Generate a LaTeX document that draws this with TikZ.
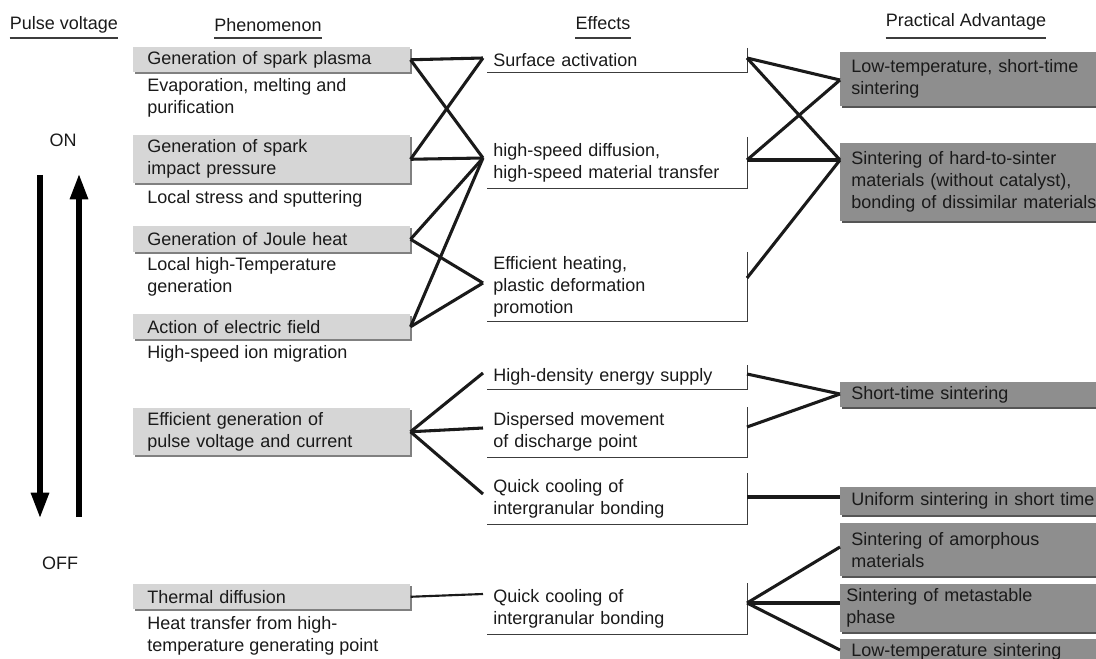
\documentclass[tikz,border=0pt]{standalone}
\usepackage{fontspec}
\setmainfont{Liberation Sans}
\usetikzlibrary{calc,shadows,arrows.meta}

\definecolor{phengray}{HTML}{D6D6D6}
\definecolor{phenshade}{HTML}{808080}
\definecolor{advgray}{HTML}{8E8E8E}
\definecolor{advshade}{HTML}{555555}
\definecolor{inkc}{HTML}{1A1A1A}

\tikzset{
  lbl/.style={inner sep=0pt, anchor=north west, align=left, text=inkc},
  hdr/.style={inner sep=0pt, text=inkc},
  phenbox/.style={fill=phengray, anchor=north west, inner xsep=10.5pt, inner ysep=1pt,
    text width=186.75pt, align=left, text=inkc,
    drop shadow={shadow xshift=1.4pt, shadow yshift=-1.4pt, fill=phenshade, opacity=1}},
  effbox/.style={anchor=north west, inner xsep=4.5pt, inner ysep=0pt,
    text width=186pt, align=left, text=inkc},
  advbox/.style={fill=advgray, anchor=north west, inner xsep=8.25pt, inner ysep=1pt,
    text width=187.5pt, align=left, text=inkc,
    drop shadow={shadow xshift=1.4pt, shadow yshift=-1.4pt, fill=advshade, opacity=1}},
  link/.style={line width=2.3pt, draw=inkc},
  brk/.style={line width=1.1pt, draw=inkc!85},
  hdline/.style={line width=1.1pt, draw=inkc!85},
  pulse/.style={line width=3.8pt, draw=black, -{Triangle[width=13pt,length=19pt]}}
}

\begin{document}
\begin{tikzpicture}[x=0.75pt,y=0.75pt,yscale=-1,xscale=1,
  every node/.style={font=\fontsize{13.5}{16.5}\selectfont}]
\clip (0,0) rectangle (1096,659);

% Headers
\draw (64,25) node [hdr] (hdpulse) {Pulse voltage};
\draw (268,25) node [hdr] (hdphen) {Phenomenon};
\draw (603,23) node [hdr] (hdeff) {Effects};
\draw (966,22) node [hdr] (hdadv) {Practical Advantage};
\coordinate (ul) at (0,38);
\draw [hdline] (hdpulse.west |- ul) -- (hdpulse.east |- ul);
\draw [hdline] (hdphen.west |- ul) -- (hdphen.east |- ul);
\draw [hdline] (hdeff.west |- ul) -- (hdeff.east |- ul);
\draw [hdline] (hdadv.west |- ul) -- (hdadv.east |- ul);

% Pulse voltage
\draw (63,140) node [hdr] (on) {ON};
\draw (60,563) node [hdr] (off) {OFF};
\coordinate (dntop) at (40,175);
\coordinate (dnbot) at (40,518);
\coordinate (uptop) at (79,174);
\coordinate (upbot) at (79,517);
\draw [pulse] (dntop) -- (dnbot);
\draw [pulse] (upbot) -- (uptop);

%Shape: Rectangle (phenomenon)
\draw (133,47) node [phenbox, minimum height=18.75pt] (p1) {Generation of spark plasma};
\draw (133,135) node [phenbox, minimum height=36pt] (p2) {Generation of spark\\impact pressure};
\draw (133,226) node [phenbox, minimum height=19.5pt] (p3) {Generation of Joule heat};
\draw (133,314) node [phenbox, minimum height=18.75pt] (p4) {Action of electric field};
\draw (133,408) node [phenbox, minimum height=35.25pt] (p5) {Efficient generation of\\pulse voltage and current};
\draw (133,584) node [phenbox, minimum height=18.75pt] (p6) {Thermal diffusion};

% Text Node
\draw (147,78) node [lbl] (s1) {Evaporation, melting and\\purification};
\draw (147,190) node [lbl] (s2) {Local stress and sputtering};
\draw (147,257) node [lbl] (s3) {Local high-Temperature\\generation};
\draw (147,345) node [lbl] (s4) {High-speed ion migration};
\draw (147,616) node [lbl] (s6) {Heat transfer from high-\\temperature generating point};

%Shape: Bracket (effects)
\draw (487,48) node [effbox, minimum height=18pt] (e1) {Surface activation};
\draw (487,137) node [effbox, minimum height=38.25pt] (e2) {high-speed diffusion,\\high-speed material transfer};
\draw (487,252) node [effbox, minimum height=51.75pt] (e3) {Efficient heating,\\plastic deformation\\promotion};
\draw (487,365) node [effbox, minimum height=18pt] (e4) {High-density energy supply};
\draw (487,407) node [effbox, minimum height=37.5pt] (e5) {Dispersed movement\\of discharge point};
\draw (487,473) node [effbox, minimum height=38.25pt] (e6) {Quick cooling of\\intergranular bonding};
\draw (487,583) node [effbox, minimum height=38.25pt] (e7) {Quick cooling of\\intergranular bonding};
\foreach \e in {e1,e2,e3,e4,e5,e6,e7}
  \draw [brk] (\e.north east) -- (\e.south east) -- (\e.south west);

%Shape: Rectangle (advantage)
\draw (840,52) node [advbox, minimum height=40.5pt] (a1) {Low-temperature, short-time\\sintering};
\draw (840,143) node [advbox, minimum height=58.5pt] (a2) {Sintering of hard-to-sinter\\materials (without catalyst),\\bonding of dissimilar materials};
\draw (840,382) node [advbox, minimum height=18.75pt] (a3) {Short-time sintering};
\draw (840,487) node [advbox, minimum height=21pt] (a4) {Uniform sintering in short time};
\draw (840,523) node [advbox, minimum height=39.75pt] (a5) {Sintering of amorphous\\materials};
\draw (840,584) node [advbox, minimum height=36pt, inner xsep=4.5pt] (a6) {Sintering of metastable\\phase};
\draw (840,639) node [advbox, minimum height=19.5pt] (a7) {Low-temperature sintering};

% Joining points
\coordinate (e1in) at (483,58);
\coordinate (e2in) at (483,158);
\coordinate (e3in) at (483,283);
\coordinate (e4in) at (483,373);
\coordinate (e5in) at (483,428);
\coordinate (e6in) at (483,494);
\coordinate (e7in) at (483,594);
\coordinate (e1out) at (747,58);
\coordinate (e2out) at (747,160);
\coordinate (e3out) at (747,278);
\coordinate (e4out) at (747,374);
\coordinate (e5out) at (747,427);
\coordinate (e6out) at (747,497);
\coordinate (e7out) at (747,603);
\coordinate (a1in) at (840,80);
\coordinate (a2in) at (840,160);
\coordinate (a3in) at (840,394);
\coordinate (a4in) at (840,497);
\coordinate (a5in) at (840,547);
\coordinate (a6in) at (840,603);
\coordinate (a7in) at (840,650);

%Straight Lines (phenomenon to effects)
\draw [link] (p1.east) -- (e1in);
\draw [link] (p1.east) -- (e2in);
\draw [link] (p2.east) -- (e1in);
\draw [link] (p2.east) -- (e2in);
\draw [link] (p3.east) -- (e2in);
\draw [link] (p3.east) -- (e3in);
\draw [link] (p4.east) -- (e2in);
\draw [link] (p4.east) -- (e3in);
\draw [link] (p5.east) -- (e4in);
\draw [link] (p5.east) -- (e5in);
\draw [link] (p5.east) -- (e6in);
\draw [link, line width=1.6pt] (p6.east) -- (e7in);

%Straight Lines (effects to advantage)
\draw [link] (e1out) -- (a1in);
\draw [link] (e1out) -- (a2in);
\draw [link] (e2out) -- (a1in);
\draw [link] (e2out) -- (a2in);
\draw [link] (e3out) -- (a2in);
\draw [link] (e4out) -- (a3in);
\draw [link] (e5out) -- (a3in);
\draw [link] (e6out) -- (a4in);
\draw [link] (e7out) -- (a5in);
\draw [link] (e7out) -- (a6in);
\draw [link] (e7out) -- (a7in);

\end{tikzpicture}
\end{document}
